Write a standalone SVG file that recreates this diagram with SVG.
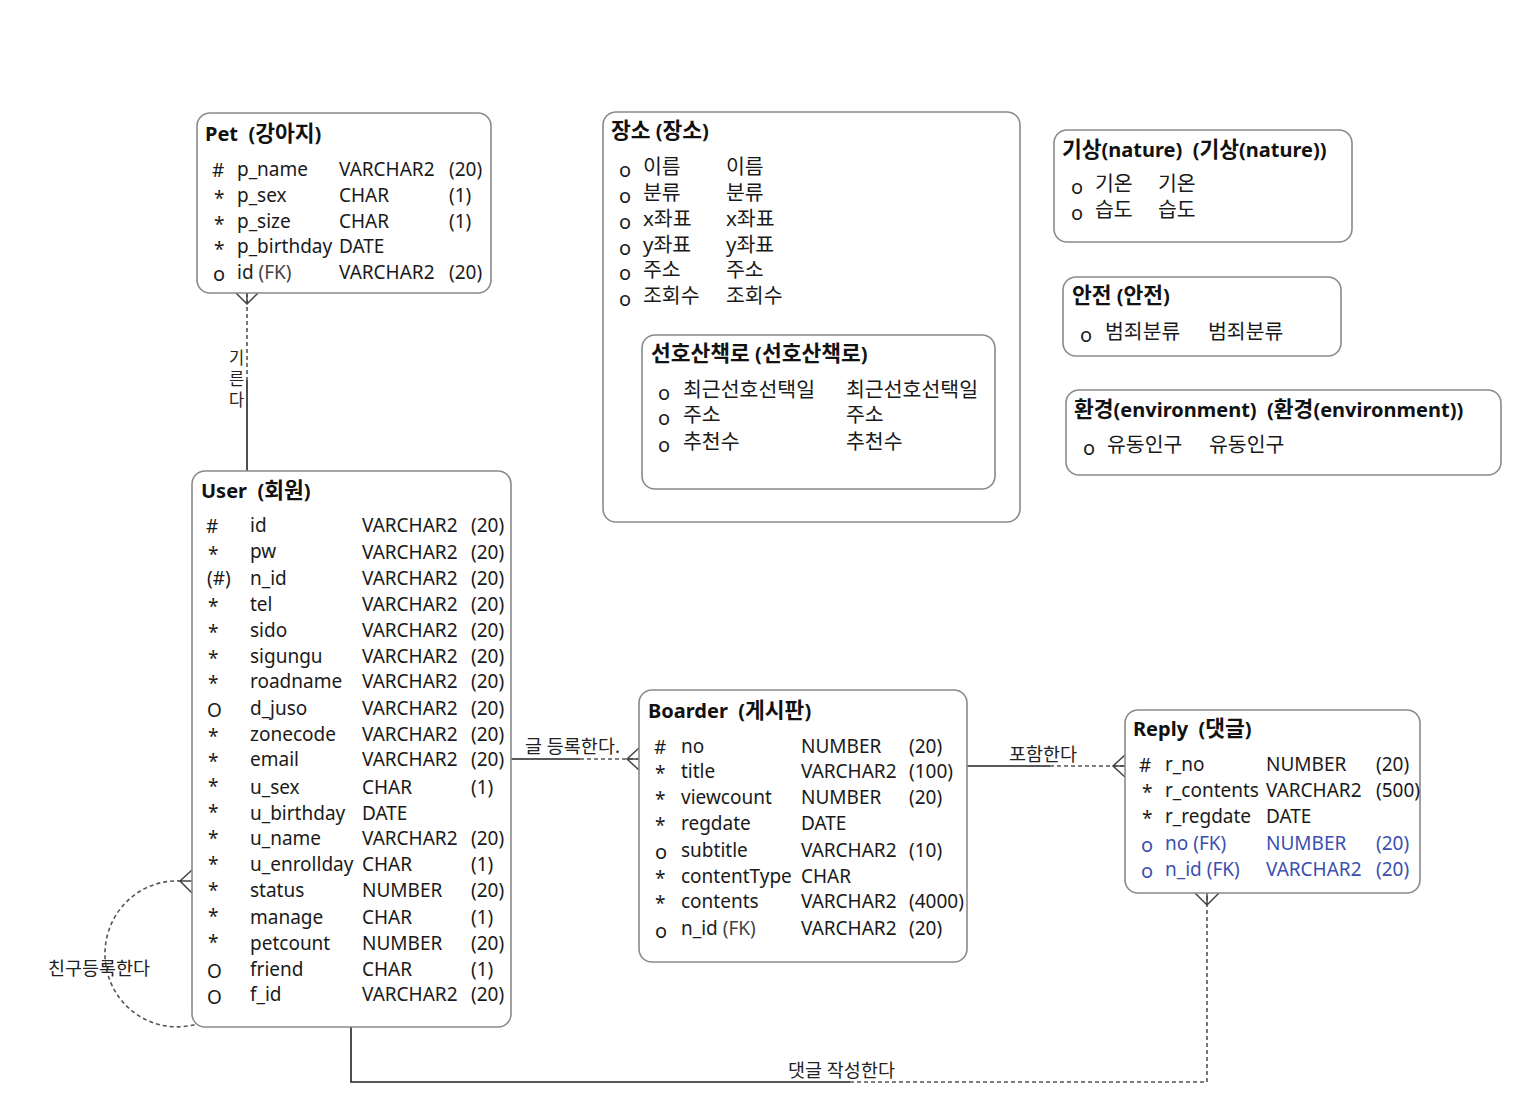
<svg xmlns="http://www.w3.org/2000/svg" width="1530" height="1112" viewBox="0 0 1530 1112">
<style>
text{font-family:"Noto Sans","Noto Sans CJK KR",sans-serif;fill:#1a1a1a;font-size:19px}
.t{font-weight:bold;font-size:20px;fill:#111;white-space:pre}
.kt{font-size:21.5px}
.k{font-size:20.5px}
.o{font-size:20px}
.fk{fill:#3b4fb0}
.box{fill:#fff;stroke:#8a8a8a;stroke-width:1.6}
.sl{fill:none;stroke:#222;stroke-width:1.6}
.dl{fill:none;stroke:#555;stroke-width:1.6;stroke-dasharray:4 3}
.cf{fill:none;stroke:#444;stroke-width:1.5}
.lb{font-size:18.5px;fill:#222}
.vl{font-size:16.5px;fill:#222}
</style>
<rect width="1530" height="1112" fill="#fff"/>

<g id="connectors">
  <path class="dl" d="M247 293 V380"/>
  <path class="sl" d="M247 380 V471"/>
  <path class="cf" d="M236 293 L247 304 L258 293 M247 293 V304"/>
  <text class="vl" x="229" y="364">기</text>
  <text class="vl" x="229" y="385">른</text>
  <text class="vl" x="229" y="406">다</text>
  <path class="sl" d="M511 759 H580"/>
  <path class="dl" d="M580 759 H639"/>
  <path class="cf" d="M639 748 L627 759 L639 770 M627 759 H639"/>
  <text class="lb" x="525" y="753">글 등록한다.</text>
  <path class="sl" d="M967 766 H1050"/>
  <path class="dl" d="M1050 766 H1125"/>
  <path class="cf" d="M1125 755 L1113 766 L1125 777 M1113 766 H1125"/>
  <text class="lb" x="1009" y="761">포함한다</text>
  <path class="sl" d="M351 1027 V1082 H850"/>
  <path class="dl" d="M850 1082 H1207 V893"/>
  <path class="cf" d="M1195 893 L1207 905 L1219 893 M1207 893 V905"/>
  <text class="lb" x="788" y="1077">댓글 작성한다</text>
  <path class="dl" d="M181 881 A72 73 0 1 0 197 1024"/>
  <path class="cf" d="M192 870 L180 881 L192 893 M180 881 H192"/>
  <text class="lb" x="48" y="975">친구등록한다</text>
</g>

<g id="pet">
  <rect class="box" x="197" y="113" width="294" height="180" rx="13"/>
  <text class="t" x="205" y="141" xml:space="preserve">Pet  (<tspan class="kt">강아지</tspan>)</text>
  <text x="212" y="177" font-size="21">#</text><text x="237" y="176">p_name</text><text x="339" y="176">VARCHAR2</text><text x="449" y="176">(20)</text>
  <text x="214" y="205">*</text><text x="237" y="202">p_sex</text><text x="339" y="202">CHAR</text><text x="449" y="202">(1)</text>
  <text x="214" y="231">*</text><text x="237" y="228">p_size</text><text x="339" y="228">CHAR</text><text x="449" y="228">(1)</text>
  <text x="214" y="256">*</text><text x="237" y="253">p_birthday</text><text x="339" y="253">DATE</text>
  <text class="o" x="213" y="281">o</text><text x="237" y="279">id <tspan fill="#444">(FK)</tspan></text><text x="339" y="279">VARCHAR2</text><text x="449" y="279">(20)</text>
</g>

<g id="place">
  <rect class="box" x="603" y="112" width="417" height="410" rx="13"/>
  <text class="t" x="611" y="138" xml:space="preserve"><tspan class="kt">장소</tspan> (<tspan class="kt">장소</tspan>)</text>
  <text class="o" x="619" y="177">o</text><text class="k" x="643" y="174">이름</text><text class="k" x="726" y="174">이름</text>
  <text class="o" x="619" y="203">o</text><text class="k" x="643" y="200">분류</text><text class="k" x="726" y="200">분류</text>
  <text class="o" x="619" y="229">o</text><text class="k" x="643" y="226">x좌표</text><text class="k" x="726" y="226">x좌표</text>
  <text class="o" x="619" y="255">o</text><text class="k" x="643" y="252">y좌표</text><text class="k" x="726" y="252">y좌표</text>
  <text class="o" x="619" y="280">o</text><text class="k" x="643" y="277">주소</text><text class="k" x="726" y="277">주소</text>
  <text class="o" x="619" y="306">o</text><text class="k" x="643" y="303">조회수</text><text class="k" x="726" y="303">조회수</text>
</g>

<g id="walk">
  <rect class="box" x="642" y="335" width="353" height="154" rx="13"/>
  <text class="t" x="651" y="361" xml:space="preserve"><tspan class="kt">선호산책로</tspan> (<tspan class="kt">선호산책로</tspan>)</text>
  <text class="o" x="658" y="400">o</text><text class="k" x="683" y="397">최근선호선택일</text><text class="k" x="846" y="397">최근선호선택일</text>
  <text class="o" x="658" y="425">o</text><text class="k" x="683" y="422">주소</text><text class="k" x="846" y="422">주소</text>
  <text class="o" x="658" y="452">o</text><text class="k" x="683" y="449">추천수</text><text class="k" x="846" y="449">추천수</text>
</g>

<g id="nature">
  <rect class="box" x="1054" y="130" width="298" height="112" rx="13"/>
  <text class="t" x="1062" y="157" xml:space="preserve"><tspan class="kt">기상</tspan>(nature)  (<tspan class="kt">기상</tspan>(nature))</text>
  <text class="o" x="1071" y="194">o</text><text class="k" x="1095" y="191">기온</text><text class="k" x="1158" y="191">기온</text>
  <text class="o" x="1071" y="220">o</text><text class="k" x="1095" y="217">습도</text><text class="k" x="1158" y="217">습도</text>
</g>

<g id="safety">
  <rect class="box" x="1063" y="277" width="278" height="79" rx="13"/>
  <text class="t" x="1072" y="303" xml:space="preserve"><tspan class="kt">안전</tspan> (<tspan class="kt">안전</tspan>)</text>
  <text class="o" x="1080" y="342">o</text><text class="k" x="1105" y="339">범죄분류</text><text class="k" x="1208" y="339">범죄분류</text>
</g>

<g id="environment">
  <rect class="box" x="1066" y="390" width="435" height="85" rx="13"/>
  <text class="t" x="1074" y="417" xml:space="preserve"><tspan class="kt">환경</tspan>(environment)  (<tspan class="kt">환경</tspan>(environment))</text>
  <text class="o" x="1083" y="455">o</text><text class="k" x="1107" y="452">유동인구</text><text class="k" x="1209" y="452">유동인구</text>
</g>

<g id="user">
  <rect class="box" x="192" y="471" width="319" height="556" rx="13"/>
  <text class="t" x="201" y="498" xml:space="preserve">User  (<tspan class="kt">회원</tspan>)</text>
  <text x="206" y="533" font-size="21">#</text><text x="250" y="532">id</text><text x="362" y="532">VARCHAR2</text><text x="471" y="532">(20)</text>
  <text x="208" y="561">*</text><text x="250" y="558">pw</text><text x="362" y="559">VARCHAR2</text><text x="471" y="559">(20)</text>
  <text x="207" y="585">(#)</text><text x="250" y="585">n_id</text><text x="362" y="585">VARCHAR2</text><text x="471" y="585">(20)</text>
  <text x="208" y="613">*</text><text x="250" y="611">tel</text><text x="362" y="611">VARCHAR2</text><text x="471" y="611">(20)</text>
  <text x="208" y="639">*</text><text x="250" y="637">sido</text><text x="362" y="637">VARCHAR2</text><text x="471" y="637">(20)</text>
  <text x="208" y="665">*</text><text x="250" y="663">sigungu</text><text x="362" y="663">VARCHAR2</text><text x="471" y="663">(20)</text>
  <text x="208" y="690">*</text><text x="250" y="688">roadname</text><text x="362" y="688">VARCHAR2</text><text x="471" y="688">(20)</text>
  <text x="207" y="717">O</text><text x="250" y="715">d_juso</text><text x="362" y="715">VARCHAR2</text><text x="471" y="715">(20)</text>
  <text x="208" y="743">*</text><text x="250" y="741">zonecode</text><text x="362" y="741">VARCHAR2</text><text x="471" y="741">(20)</text>
  <text x="208" y="768">*</text><text x="250" y="766">email</text><text x="362" y="766">VARCHAR2</text><text x="471" y="766">(20)</text>
  <text x="208" y="793">*</text><text x="250" y="794">u_sex</text><text x="362" y="794">CHAR</text><text x="471" y="794">(1)</text>
  <text x="208" y="819">*</text><text x="250" y="820">u_birthday</text><text x="362" y="820">DATE</text>
  <text x="208" y="845">*</text><text x="250" y="845">u_name</text><text x="362" y="845">VARCHAR2</text><text x="471" y="845">(20)</text>
  <text x="208" y="871">*</text><text x="250" y="871">u_enrollday</text><text x="362" y="871">CHAR</text><text x="471" y="871">(1)</text>
  <text x="208" y="897">*</text><text x="250" y="897">status</text><text x="362" y="897">NUMBER</text><text x="471" y="897">(20)</text>
  <text x="208" y="923">*</text><text x="250" y="924">manage</text><text x="362" y="924">CHAR</text><text x="471" y="924">(1)</text>
  <text x="208" y="949">*</text><text x="250" y="950">petcount</text><text x="362" y="950">NUMBER</text><text x="471" y="950">(20)</text>
  <text x="207" y="978">O</text><text x="250" y="976">friend</text><text x="362" y="976">CHAR</text><text x="471" y="976">(1)</text>
  <text x="207" y="1004">O</text><text x="250" y="1001">f_id</text><text x="362" y="1001">VARCHAR2</text><text x="471" y="1001">(20)</text>
</g>

<g id="boarder">
  <rect class="box" x="639" y="690" width="328" height="272" rx="13"/>
  <text class="t" x="648" y="718" xml:space="preserve">Boarder  (<tspan class="kt">게시판</tspan>)</text>
  <text x="654" y="754" font-size="21">#</text><text x="681" y="753">no</text><text x="801" y="753">NUMBER</text><text x="909" y="753">(20)</text>
  <text x="655" y="780">*</text><text x="681" y="778">title</text><text x="801" y="778">VARCHAR2</text><text x="909" y="778">(100)</text>
  <text x="655" y="806">*</text><text x="681" y="804">viewcount</text><text x="801" y="804">NUMBER</text><text x="909" y="804">(20)</text>
  <text x="655" y="832">*</text><text x="681" y="830">regdate</text><text x="801" y="830">DATE</text>
  <text class="o" x="655" y="859">o</text><text x="681" y="857">subtitle</text><text x="801" y="857">VARCHAR2</text><text x="909" y="857">(10)</text>
  <text x="655" y="885">*</text><text x="681" y="883">contentType</text><text x="801" y="883">CHAR</text>
  <text x="655" y="910">*</text><text x="681" y="908">contents</text><text x="801" y="908">VARCHAR2</text><text x="909" y="908">(4000)</text>
  <text class="o" x="655" y="938">o</text><text x="681" y="935">n_id <tspan fill="#444">(FK)</tspan></text><text x="801" y="935">VARCHAR2</text><text x="909" y="935">(20)</text>
</g>

<g id="reply">
  <rect class="box" x="1125" y="710" width="295" height="183" rx="13"/>
  <text class="t" x="1133" y="736" xml:space="preserve">Reply  (<tspan class="kt">댓글</tspan>)</text>
  <text x="1139" y="772" font-size="21">#</text><text x="1165" y="771">r_no</text><text x="1266" y="771">NUMBER</text><text x="1376" y="771">(20)</text>
  <text x="1142" y="799">*</text><text x="1165" y="797">r_contents</text><text x="1266" y="797">VARCHAR2</text><text x="1376" y="797">(500)</text>
  <text x="1142" y="825">*</text><text x="1165" y="823">r_regdate</text><text x="1266" y="823">DATE</text>
  <text class="o fk" x="1141" y="852">o</text><text class="fk" x="1165" y="850">no (FK)</text><text class="fk" x="1266" y="850">NUMBER</text><text class="fk" x="1376" y="850">(20)</text>
  <text class="o fk" x="1141" y="878">o</text><text class="fk" x="1165" y="876">n_id (FK)</text><text class="fk" x="1266" y="876">VARCHAR2</text><text class="fk" x="1376" y="876">(20)</text>
</g>
</svg>
